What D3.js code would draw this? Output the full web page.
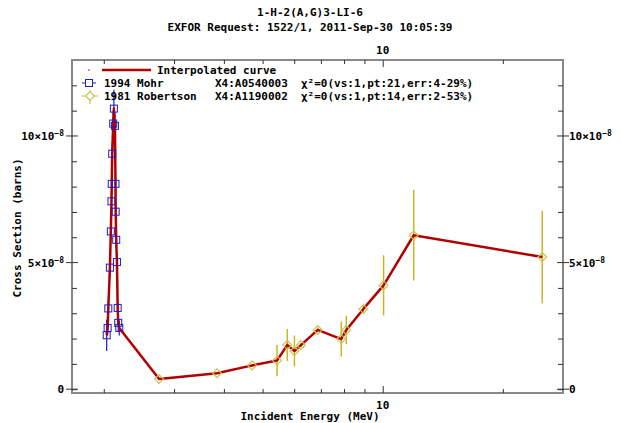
<!DOCTYPE html>
<html>
<head>
<meta charset="utf-8">
<script src="https://cdn.jsdelivr.net/npm/d3@7"></script>
<style>
  body { margin: 0; background: #fff; }
  text { font-family: "DejaVu Sans Mono", monospace; font-weight: bold; font-size: 11px; fill: #000; }
</style>
</head>
<body>
<div id="chart"></div>
<script>
// Chart data (energy in MeV, cross section in units of 1e-8 barns)
var mohrEnergy = [2.034, 2.045, 2.053, 2.072, 2.083, 2.091, 2.094, 2.100, 2.112, 2.120,
                  2.133, 2.140, 2.142, 2.149, 2.158, 2.167, 2.174, 2.187];
var mohrXs = [2.13, 2.42, 3.19, 4.80, 6.23, 7.42, 8.11, 9.30, 10.49, 11.08,
              10.40, 8.11, 7.01, 5.90, 5.02, 3.21, 2.62, 2.42];
var mohrErr = [0.62, 0.30, 0.35, 0.40, 0.35, 0.40, 0.40, 0.45, 0.50, 0.75,
               0.50, 0.40, 0.35, 0.35, 0.35, 0.30, 0.35, 0.30];

var robEnergy = [2.752, 3.845, 4.708, 5.435, 5.766, 6.009, 6.239, 6.873, 7.873, 8.105,
                 8.946, 10.05, 11.96, 25.11];
var robXs = [0.40, 0.63, 0.94, 1.13, 1.75, 1.51, 1.74, 2.34, 1.98, 2.34,
             3.17, 4.10, 6.08, 5.22];
var robErr = [0.03, 0.04, 0.06, 0.62, 0.63, 0.61, 0.08, 0.10, 0.69, 0.56,
              0.12, 1.19, 1.79, 1.83];

var xTicks = [2, 3, 4, 5, 6, 7, 8, 9, 10, 20];
var xLabels = [10];
var yMinorTicks = [0, 1, 2, 3, 4, 6, 7, 8, 9, 11, 12];
var yMajorTicks = [0, 5, 10];

var titleLines = ["1-H-2(A,G)3-LI-6", "EXFOR Request: 1522/1, 2011-Sep-30 10:05:39"];

// SVG area
var svgWidth = 621;
var svgHeight = 423;
var margin = { top: 60, right: 58, bottom: 30, left: 72 };
var chartWidth = svgWidth - margin.left - margin.right;
var chartHeight = svgHeight - margin.top - margin.bottom;

var svg = d3.select("#chart").append("svg")
    .attr("width", svgWidth)
    .attr("height", svgHeight);

var chartGroup = svg.append("g")
    .attr("transform", `translate(${margin.left}, ${margin.top})`);

// Scales
var xScale = d3.scaleLog().domain([1.665, 28.3]).range([0, chartWidth]);
var yScale = d3.scaleLinear().domain([-0.15, 13.0]).range([chartHeight, 0]);

var red = "#b00000";
var blue = "#1c1cc0";
var yellow = "#c8b820";
var diamondColor = "#cfc050";
var frameGray = "#888";

// Titles
svg.selectAll(".title")
    .data(titleLines)
    .enter()
    .append("text")
    .attr("x", 310)
    .attr("y", function (d, i) { return 16 + i * 15; })
    .attr("text-anchor", "middle")
    .text(function (d) { return d; });

// Frame
chartGroup.append("rect")
    .attr("width", chartWidth)
    .attr("height", chartHeight)
    .attr("fill", "none")
    .attr("stroke", frameGray)
    .attr("stroke-width", 2);

// x ticks (bottom, pointing up) and top (pointing down)
var bottomAxis = d3.axisTop(xScale).tickValues(xTicks).tickSize(4).tickFormat("");
var topAxis = d3.axisBottom(xScale).tickValues(xTicks).tickSize(4).tickFormat("");

var gb = chartGroup.append("g").attr("transform", `translate(0, ${chartHeight})`).call(bottomAxis);
var gt = chartGroup.append("g").call(topAxis);
[gb, gt].forEach(function (g) {
    g.select(".domain").remove();
    g.selectAll(".tick line").attr("stroke", "#333").attr("stroke-width", 1)
        .attr("y2", function (d) { return (d === 10 ? 7 : 4) * (g === gb ? -1 : 1); });
});

// x labels "10" below and above
chartGroup.selectAll(".xlab-b")
    .data(xLabels).enter().append("text")
    .attr("x", function (d) { return xScale(d); })
    .attr("y", chartHeight + 16)
    .attr("text-anchor", "middle")
    .text(function (d) { return d; });
chartGroup.selectAll(".xlab-t")
    .data(xLabels).enter().append("text")
    .attr("x", function (d) { return xScale(d); })
    .attr("y", -6)
    .attr("text-anchor", "middle")
    .text(function (d) { return d; });

// y ticks: left and right, minor inward, major across
var leftAxis = d3.axisRight(yScale).tickValues(yMinorTicks).tickSize(5).tickFormat("");
var rightAxis = d3.axisLeft(yScale).tickValues(yMinorTicks).tickSize(5).tickFormat("");
var gl = chartGroup.append("g").call(leftAxis);
var gr = chartGroup.append("g").attr("transform", `translate(${chartWidth}, 0)`).call(rightAxis);
[gl, gr].forEach(function (g) {
    g.select(".domain").remove();
    g.selectAll(".tick line").attr("stroke", "#333");
});

chartGroup.selectAll(".ymaj-l")
    .data(yMajorTicks).enter().append("line")
    .attr("x1", -6).attr("x2", 6)
    .attr("y1", function (d) { return yScale(d); })
    .attr("y2", function (d) { return yScale(d); })
    .attr("stroke", "#333");
chartGroup.selectAll(".ymaj-r")
    .data(yMajorTicks).enter().append("line")
    .attr("x1", chartWidth - 6).attr("x2", chartWidth + 6)
    .attr("y1", function (d) { return yScale(d); })
    .attr("y2", function (d) { return yScale(d); })
    .attr("stroke", "#333");

function yLabel(sel, d) {
    if (d === 0) {
        sel.text("0");
        return;
    }
    sel.text(d + "\u00d710");
    sel.append("tspan").attr("dy", -4).style("font-size", "8px").text("\u22128");
}

chartGroup.selectAll(".ylab-l")
    .data(yMajorTicks).enter().append("text")
    .attr("x", -8)
    .attr("y", function (d) { return yScale(d) + 4; })
    .attr("text-anchor", "end")
    .each(function (d) { yLabel(d3.select(this), d); });
chartGroup.selectAll(".ylab-r")
    .data(yMajorTicks).enter().append("text")
    .attr("x", chartWidth + 6)
    .attr("y", function (d) { return yScale(d) + 4; })
    .attr("text-anchor", "start")
    .each(function (d) { yLabel(d3.select(this), d); });

// Axis titles
svg.append("text")
    .attr("x", 310)
    .attr("y", 420)
    .attr("text-anchor", "middle")
    .text("Incident Energy (MeV)");
svg.append("text")
    .attr("transform", "translate(21, 228) rotate(-90)")
    .attr("text-anchor", "middle")
    .text("Cross Section (barns)");

// Data sets
var mohr = mohrEnergy.map(function (e, i) { return { e: e, v: mohrXs[i], err: mohrErr[i] }; });
var rob = robEnergy.map(function (e, i) { return { e: e, v: robXs[i], err: robErr[i] }; });

// Error bars
chartGroup.selectAll(".err-m")
    .data(mohr).enter().append("line")
    .attr("x1", function (d) { return xScale(d.e); })
    .attr("x2", function (d) { return xScale(d.e); })
    .attr("y1", function (d) { return yScale(d.v - d.err); })
    .attr("y2", function (d) { return yScale(d.v + d.err); })
    .attr("stroke", blue).attr("stroke-width", 1.2);
chartGroup.selectAll(".err-r")
    .data(rob).enter().append("line")
    .attr("x1", function (d) { return xScale(d.e); })
    .attr("x2", function (d) { return xScale(d.e); })
    .attr("y1", function (d) { return yScale(d.v - d.err); })
    .attr("y2", function (d) { return yScale(d.v + d.err); })
    .attr("stroke", yellow).attr("stroke-width", 1.5);

// Interpolated curve through all points
var all = mohr.concat(rob).sort(function (a, b) { return a.e - b.e; });
var line = d3.line()
    .x(function (d) { return xScale(d.e); })
    .y(function (d) { return yScale(d.v); });
chartGroup.append("path")
    .datum(all)
    .attr("d", line)
    .attr("fill", "none")
    .attr("stroke", red)
    .attr("stroke-width", 2.5)
    .attr("stroke-linejoin", "round");

// Markers
chartGroup.selectAll(".sq")
    .data(mohr).enter().append("rect")
    .attr("x", function (d) { return xScale(d.e) - 3.5; })
    .attr("y", function (d) { return yScale(d.v) - 3.5; })
    .attr("width", 7).attr("height", 7)
    .attr("fill", "none").attr("stroke", blue).attr("stroke-width", 1);
var diamond = d3.symbol().type(d3.symbolDiamond2).size(50);
chartGroup.selectAll(".dm")
    .data(rob).enter().append("path")
    .attr("d", diamond)
    .attr("transform", function (d) { return `translate(${xScale(d.e)}, ${yScale(d.v)})`; })
    .attr("fill", "none").attr("stroke", diamondColor).attr("stroke-width", 1.2);

// Legend
var legend = svg.append("g");
legend.append("circle").attr("cx", 89).attr("cy", 70).attr("r", 0.8).attr("fill", red);
legend.append("line").attr("x1", 102).attr("x2", 151).attr("y1", 70).attr("y2", 70)
    .attr("stroke", red).attr("stroke-width", 2.5);
legend.append("text").attr("x", 157).attr("y", 74).text("Interpolated curve");

legend.append("line").attr("x1", 82).attr("x2", 96).attr("y1", 83).attr("y2", 83)
    .attr("stroke", blue);
legend.append("rect").attr("x", 85.5).attr("y", 79.5).attr("width", 7).attr("height", 7)
    .attr("fill", "#fff").attr("stroke", blue);
legend.append("text").attr("x", 104).attr("y", 87).text("1994 Mohr");
legend.append("text").attr("x", 215).attr("y", 87).text("X4:A0540003");
legend.append("text").attr("x", 301).attr("y", 87).text("\u03c7\u00b2=0(vs:1,pt:21,err:4-29%)");

legend.append("line").attr("x1", 82).attr("x2", 98).attr("y1", 96).attr("y2", 96)
    .attr("stroke", yellow);
legend.append("line").attr("x1", 90).attr("x2", 90).attr("y1", 90).attr("y2", 104)
    .attr("stroke", yellow);
legend.append("path").attr("d", d3.symbol().type(d3.symbolDiamond2).size(50))
    .attr("transform", "translate(90, 96)")
    .attr("fill", "#fff").attr("stroke", diamondColor).attr("stroke-width", 1.2);
legend.append("text").attr("x", 104).attr("y", 100).text("1981 Robertson");
legend.append("text").attr("x", 215).attr("y", 100).text("X4:A1190002");
legend.append("text").attr("x", 301).attr("y", 100).text("\u03c7\u00b2=0(vs:1,pt:14,err:2-53%)");
</script>
</body>
</html>
